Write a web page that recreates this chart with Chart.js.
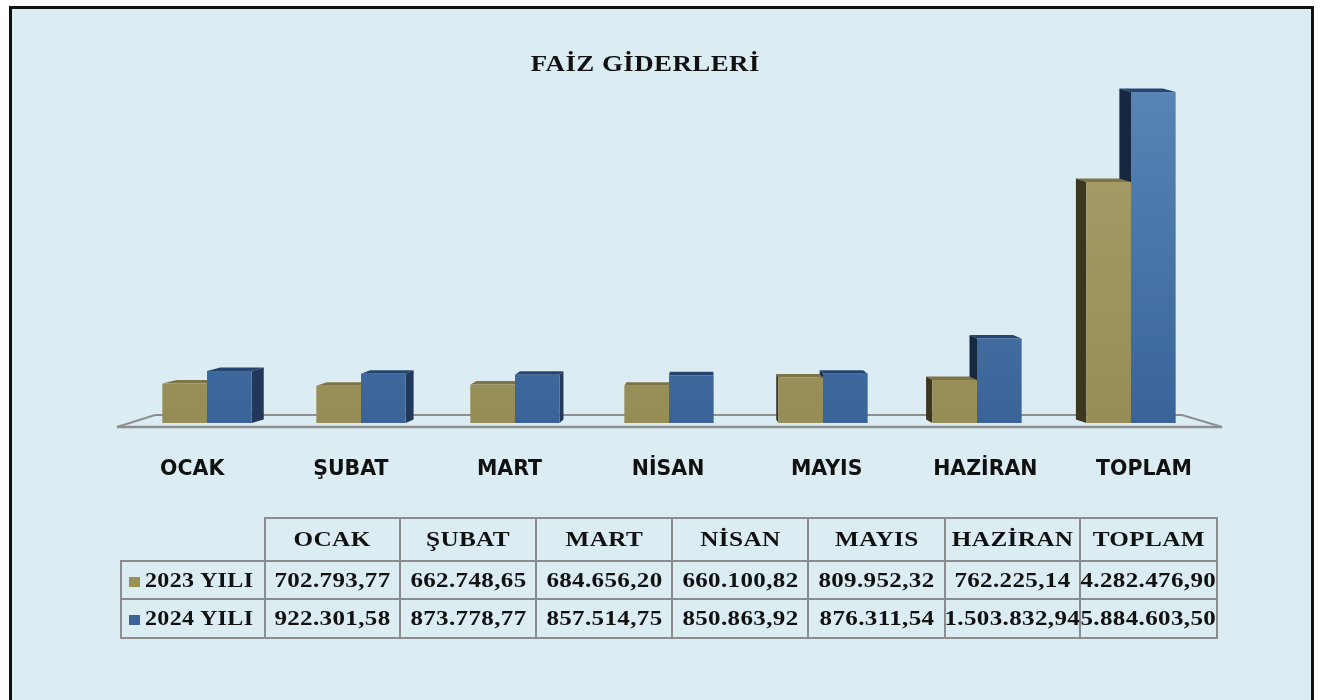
<!DOCTYPE html>
<html lang="tr">
<head>
  <meta charset="UTF-8">
  <title>Faiz Giderleri</title>
  <script src="https://cdn.jsdelivr.net/npm/chart.js"></script>
  <style>
    body {
      margin: 0;
      width: 1323px;
      height: 700px;
      overflow: hidden;
      background: #ffffff;
      position: relative;
    }
    #cerceve {
      position: absolute;
      left: 9px;
      top: 6px;
      width: 1305px;
      height: 760px;
      box-sizing: border-box;
      border: 3px solid #111;
      background: #dbedf3;
    }
    #grafik {
      position: absolute;
      left: 0;
      top: 0;
    }
    #baslik {
      position: absolute;
      left: 0;
      width: 1290px;
      top: 51px;
      line-height: 24px;
      text-align: center;
      font-family: 'Liberation Serif', 'Times New Roman', serif;
      font-weight: bold;
      font-size: 24px;
      letter-spacing: 0.4px;
      color: #111;
    }
    #baslik span {
      display: inline-block;
      transform: scaleX(1.12);
    }
    #veriTablosu {
      position: absolute;
      left: 120px;
      top: 517px;
      border-collapse: collapse;
      table-layout: fixed;
      font-family: 'Liberation Serif', 'Times New Roman', serif;
      font-weight: bold;
      color: #111;
    }
    #veriTablosu td {
      border: 2px solid #8c8c8c;
      padding: 0;
      text-align: center;
      white-space: nowrap;
      overflow: visible;
      font-size: 20px;
      letter-spacing: 0.3px;
    }
    #veriTablosu td span.g {
      display: inline-block;
      transform: scaleX(1.25);
    }
    #veriTablosu tr.ust td {
      height: 41px;
      font-size: 21px;
    }
    #veriTablosu tr.ust td span.g { transform: scaleX(1.2); }
    #veriTablosu tr.satir1 td { height: 36px; }
    #veriTablosu tr.satir2 td { height: 37px; }
    #veriTablosu td.bos {
      border-top: none;
      border-left: none;
    }
    #veriTablosu td.seri {
      text-align: left;
      padding-left: 7px;
    }
    #veriTablosu td.seri span.g {
      transform: scaleX(1.2);
      transform-origin: left center;
    }
    .kare {
      display: inline-block;
      width: 11px;
      height: 10px;
      margin-right: 5px;
    }
  </style>
</head>
<body>
<div id="cerceve"></div>
<canvas id="grafik" width="1323" height="700"></canvas>
<div id="baslik"><span>FAİZ GİDERLERİ</span></div>
<table id="veriTablosu"></table>

<script>
  // Veriler
  const categories = ['OCAK', 'ŞUBAT', 'MART', 'NİSAN', 'MAYIS', 'HAZİRAN', 'TOPLAM'];
  const seriesNames = ['2023 YILI', '2024 YILI'];
  const values2023 = [702793.77, 662748.65, 684656.20, 660100.82, 809952.32, 762225.14, 4282476.90];
  const values2024 = [922301.58, 873778.77, 857514.75, 850863.92, 876311.54, 1503832.94, 5884603.50];

  // Renkler: ön yüz (üst/alt), üst yüz, sol ve sağ yan yüz
  const renk2023 = { ust: '#a99f6b', alt: '#968c55', tepe: '#7d7346', sol: '#3d3720', sag: '#5e5632', kare: '#9a8f55' };
  const renk2024 = { ust: '#5984b6', alt: '#3a6497', tepe: '#264470', sol: '#16283f', sag: '#22385a', kare: '#3b6496' };

  // Perspektif: kaçış noktası x ve derinlik katsayısı
  const vx = 700;
  const derinlik = 0.027;
  const dy = -3.5;

  // Türkçe sayı biçimi: 1.234.567,89
  const trFormat = (n) => {
    const [tam, kesir] = n.toFixed(2).split('.');
    return tam.replace(/\B(?=(\d{3})+(?!\d))/g, '.') + ',' + kesir;
  };

  const gradyan = (context, r) => {
    const area = context.chart.chartArea;
    if (!area) return r.alt;
    const g = context.chart.ctx.createLinearGradient(0, area.top, 0, area.bottom);
    g.addColorStop(0, r.ust);
    g.addColorStop(1, r.alt);
    return g;
  };

  const poligon = (ctx, pts, color) => {
    ctx.beginPath();
    ctx.moveTo(pts[0][0], pts[0][1]);
    pts.slice(1).forEach(p => ctx.lineTo(p[0], p[1]));
    ctx.closePath();
    ctx.fillStyle = color;
    ctx.fill();
  };

  // Zemin ve çubukların 3B yüzleri
  const ucBoyut = {
    id: 'ucBoyut',
    beforeDatasetsDraw(chart) {
      const ctx = chart.ctx;
      const xs = chart.scales.x;
      const base = chart.scales.y.getPixelForValue(0);
      ctx.save();
      // zemin
      ctx.strokeStyle = '#8e8e8e';
      ctx.lineWidth = 2;
      ctx.beginPath();
      ctx.moveTo(xs.left - 13, base + 4);
      ctx.lineTo(xs.left + 25, base - 8);
      ctx.lineTo(xs.right - 26, base - 8);
      ctx.lineTo(xs.right + 14, base + 4);
      ctx.stroke();
      ctx.lineWidth = 2.5;
      ctx.beginPath();
      ctx.moveTo(xs.left - 13, base + 4);
      ctx.lineTo(xs.right + 14, base + 4);
      ctx.stroke();

      // önce arkadaki seri (2024), sonra 2023
      [1, 0].forEach(di => {
        const r = di === 0 ? renk2023 : renk2024;
        chart.getDatasetMeta(di).data.forEach(bar => {
          const p = bar.getProps(['x', 'y', 'base', 'width'], true);
          const l = p.x - p.width / 2;
          const rr = p.x + p.width / 2;
          const dl = derinlik * (vx - l);
          const dr = derinlik * (vx - rr);
          // üst yüz
          poligon(ctx, [[l, p.y], [rr, p.y], [rr + dr, p.y + dy], [l + dl, p.y + dy]], r.tepe);
          // yan yüz
          if (dr > 0) {
            poligon(ctx, [[rr, p.y], [rr + dr, p.y + dy], [rr + dr, p.base + dy], [rr, p.base]], r.sag);
          }
          if (dl < 0) {
            poligon(ctx, [[l, p.y], [l + dl, p.y + dy], [l + dl, p.base + dy], [l, p.base]], r.sol);
          }
        });
      });
      ctx.restore();
    },
    afterDraw(chart) {
      // ay etiketleri, ön kenara göre perspektifli
      const ctx = chart.ctx;
      const xs = chart.scales.x;
      ctx.save();
      ctx.font = 'bold 20.5px "DejaVu Sans", sans-serif';
      ctx.fillStyle = '#111';
      ctx.textAlign = 'center';
      ctx.textBaseline = 'middle';
      categories.forEach((c, i) => {
        const cx = xs.getPixelForValue(i);
        ctx.fillText(c, vx + (cx - vx) * 1.03, 470);
      });
      ctx.restore();
    }
  };

  const ctx = document.getElementById('grafik').getContext('2d');
  const grafik = new Chart(ctx, {
    type: 'bar',
    data: {
      labels: categories,
      datasets: [
        {
          label: seriesNames[0],
          data: values2023,
          backgroundColor: (c) => gradyan(c, renk2023),
          borderWidth: 0
        },
        {
          label: seriesNames[1],
          data: values2024,
          backgroundColor: (c) => gradyan(c, renk2024),
          borderWidth: 0
        }
      ]
    },
    options: {
      responsive: false,
      animation: false,
      layout: {
        padding: { left: 130, right: 115, top: 85.5, bottom: 277 }
      },
      datasets: {
        bar: { categoryPercentage: 0.58, barPercentage: 1 }
      },
      scales: {
        x: { display: false },
        y: { display: false, min: 0, max: 6000000 }
      },
      plugins: {
        legend: { display: false },
        tooltip: { enabled: false }
      }
    },
    plugins: [ucBoyut]
  });

  // Veri tablosu
  const tablo = document.getElementById('veriTablosu');
  const genislikler = [144, 135, 136, 136, 136, 137, 135, 137];
  let html = '<colgroup>' + genislikler.map(w => `<col style="width:${w}px">`).join('') + '</colgroup>';
  html += '<tr class="ust"><td class="bos"></td>' + categories.map(c => `<td><span class="g">${c}</span></td>`).join('') + '</tr>';
  [values2023, values2024].forEach((vals, i) => {
    const r = i === 0 ? renk2023 : renk2024;
    html += `<tr class="satir${i + 1}"><td class="seri"><span class="kare" style="background:${r.kare}"></span><span class="g">${seriesNames[i]}</span></td>`;
    html += vals.map(v => `<td><span class="g">${trFormat(v)}</span></td>`).join('') + '</tr>';
  });
  tablo.innerHTML = html;
</script>
</body>
</html>
